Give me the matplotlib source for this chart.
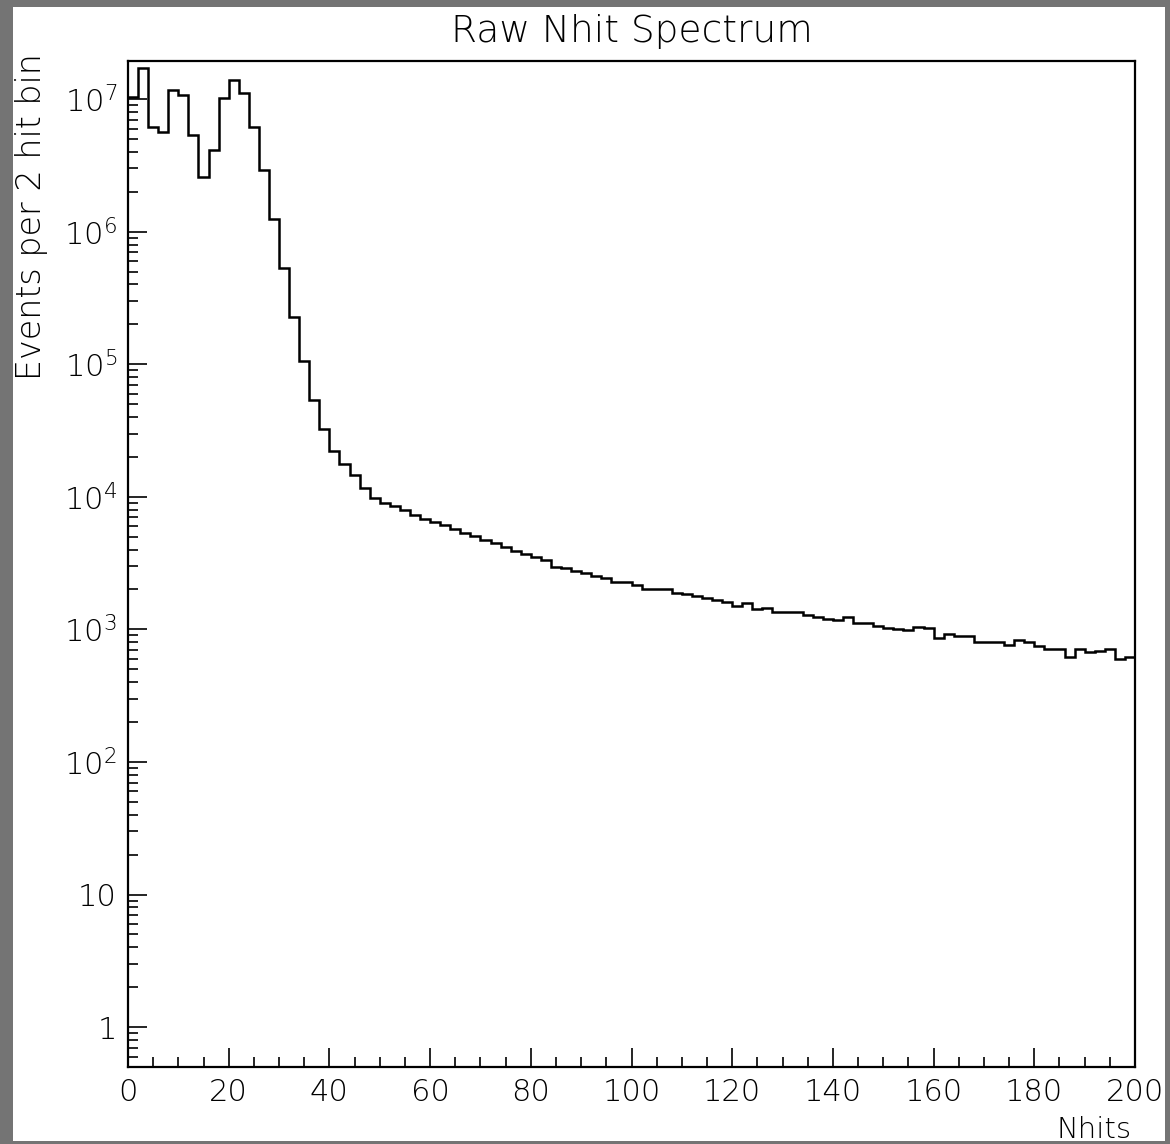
import numpy as np
import matplotlib
matplotlib.use("Agg")
import matplotlib.pyplot as plt
import matplotlib.ticker as ticker
from matplotlib.patches import Rectangle

# bin edges: 2 hits per bin, 0..200
bin_edges = np.arange(0, 202, 2)

# events per 2 hit bin
events = [
    1.03e7, 1.71e7, 6.18e6, 5.70e6, 1.18e7, 1.07e7, 5.35e6, 2.59e6, 4.12e6, 1.02e7,
    1.39e7, 1.12e7, 6.18e6, 2.94e6, 1.25e6, 5.37e5, 2.28e5, 1.05e5, 5.38e4, 3.23e4,
    2.22e4, 1.76e4, 1.46e4, 1.16e4, 9.80e3, 8.93e3, 8.53e3, 7.95e3, 7.24e3, 6.84e3,
    6.45e3, 6.09e3, 5.68e3, 5.37e3, 5.06e3, 4.72e3, 4.46e3, 4.21e3, 3.90e3, 3.68e3,
    3.54e3, 3.34e3, 2.97e3, 2.90e3, 2.75e3, 2.65e3, 2.53e3, 2.43e3, 2.28e3, 2.28e3,
    2.16e3, 2.03e3, 2.03e3, 2.03e3, 1.89e3, 1.84e3, 1.78e3, 1.73e3, 1.66e3, 1.61e3,
    1.50e3, 1.57e3, 1.43e3, 1.46e3, 1.36e3, 1.36e3, 1.36e3, 1.28e3, 1.24e3, 1.20e3,
    1.18e3, 1.23e3, 1.12e3, 1.12e3, 1.06e3, 1.03e3, 1.00e3, 988, 1035, 1018,
    865, 917, 897, 897, 798, 798, 798, 757, 826, 807,
    748, 715, 715, 622, 715, 675, 690, 715, 601, 615,
]

x_ticks = [0, 20, 40, 60, 80, 100, 120, 140, 160, 180, 200]
x_tick_labels = [str(v) for v in x_ticks]
y_ticks = [1, 10, 1e2, 1e3, 1e4, 1e5, 1e6, 1e7]
y_tick_labels = ["1", "10", r"$\mathregular{10^{2}}$", r"$\mathregular{10^{3}}$",
                 r"$\mathregular{10^{4}}$", r"$\mathregular{10^{5}}$",
                 r"$\mathregular{10^{6}}$", r"$\mathregular{10^{7}}$"]

plt.rcParams['font.family'] = ['DejaVu Sans']
plt.rcParams['font.weight'] = 'light'

W, H = 1170, 1144
fig = plt.figure(figsize=(W / 100, H / 100), dpi=100)
fig.patch.set_facecolor('#747474')

# white canvas inside the gray border
fig.patches.append(Rectangle((13 / W, 1 - 1141 / H), (1165 - 13) / W, (1141 - 7) / H,
                             transform=fig.transFigure, facecolor='white',
                             edgecolor='none', zorder=-5))

ax = fig.add_axes([128 / W, 1 - 1067 / H, (1135 - 128) / W, (1067 - 61) / H])
ax.set_zorder(2)
ax.set_facecolor('white')

ax.stairs(events, bin_edges, baseline=None, color='black', linewidth=1.8)

ax.set_yscale('log')
ax.set_xlim(0, 200)
ax.set_ylim(0.5, 1.94e7)

ax.set_xticks(x_ticks)
ax.set_xticklabels(x_tick_labels)
ax.xaxis.set_minor_locator(ticker.MultipleLocator(5))
ax.set_yticks(y_ticks)
ax.set_yticklabels(y_tick_labels)
ax.yaxis.set_minor_locator(ticker.LogLocator(base=10, subs=np.arange(2, 10), numticks=20))
ax.yaxis.set_minor_formatter(ticker.NullFormatter())

ax.tick_params(which='both', direction='in', top=False, right=False, width=1.2,
               labelsize=22, colors='black')
ax.tick_params(which='major', length=14)
ax.tick_params(which='minor', length=7)
ax.tick_params(axis='x', pad=8)
ax.tick_params(axis='y', pad=8)

for sp in ax.spines.values():
    sp.set_linewidth(1.6)

ax.set_title('Raw Nhit Spectrum', fontsize=27, fontweight='light', pad=14)
fig.text(32 / W, 1 - 53 / H, 'Events per 2 hit bin', rotation=90,
         ha='center', va='top', fontsize=24)
fig.text(1132 / W, 1 - 1138 / H, 'Nhits', ha='right', va='baseline', fontsize=21)

fig.savefig('out.png', dpi=100, facecolor=fig.get_facecolor())
plt.close(fig)
